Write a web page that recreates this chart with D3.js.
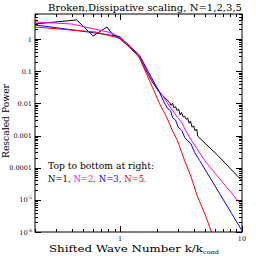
<!DOCTYPE html>
<html><head><meta charset="utf-8">
<script src="https://cdn.jsdelivr.net/npm/d3@7"></script>
<style>body{margin:0;background:#fff}svg{display:block}text{font-family:"DejaVu Serif",serif;fill:#000}</style>
</head><body>
<script>
const titleText = "Broken,Dissipative scaling, N=1,2,3,5";
const xLabel = "Shifted Wave Number k/k";
const xLabelSub = "cond";
const yLabel = "Rescaled Power";
const legendTitle = "Top to bottom at right:";
const seriesNames = ["N=1", "N=2", "N=3", "N=5"];
const seriesColors = ["#000000", "#ff00ff", "#0000ff", "#ff0000"];
const xDomain = [0.2, 10];
const yDomain = [1e-6, 6];
const xMajorTicks = [1, 10];
const xTickLabels = ["1", "10"];
const yMajorTicks = [1, 0.1, 0.01, 0.001, 0.0001, 1e-5, 1e-6];
const yTickLabels = [["1"], ["0.1"], ["0.01"], ["0.001"], ["0.0001"], ["10", "-5"], ["10", "-6"]];

const kN1 = [0.2, 0.44, 0.60, 0.78, 0.86, 1.0, 1.19, 1.44, 1.80, 2.10,
  2.54, 2.62, 2.69, 2.77, 2.85, 2.93, 3.02, 3.10, 3.19, 3.29, 3.38, 3.48, 3.58, 3.68, 3.78, 3.90, 4.01, 4.12, 4.25, 4.33,
  6.33, 10];
const pN1 = [2.94, 3.93, 1.24, 2.37, 1.43, 1.0, 0.56, 0.27, 0.052, 0.022,
  1.07e-2, 8.7e-3, 1.0e-2, 7.2e-3, 7.9e-3, 6.0e-3, 6.6e-3, 4.4e-3, 5.2e-3, 3.8e-3, 4.0e-3, 3.2e-3, 3.5e-3, 2.4e-3, 2.8e-3, 1.8e-3, 2.0e-3, 1.4e-3, 1.6e-3, 9.5e-4,
  2.4e-4, 3.9e-5];

const kN2 = [0.2, 0.40, 0.86, 1.0, 1.19, 1.44, 1.80, 2.10, 2.54, 2.96, 3.19, 3.44, 3.86, 4.95, 10];
const pN2 = [3.40, 2.94, 1.54, 1.07, 0.58, 0.29, 0.056, 0.024, 8.3e-3, 3.6e-3, 2.6e-3, 1.44e-3, 6.9e-4, 1.65e-4, 6.5e-6];

const kN3 = [0.2, 0.55, 0.94, 1.0, 1.19, 1.44, 1.80, 2.10, 2.30, 2.45, 2.60, 2.69, 2.85, 3.0, 3.2, 3.4, 3.58, 3.8, 4.1, 4.5, 10];
const pN3 = [2.74, 1.65, 1.24, 1.15, 0.62, 0.316, 0.065, 0.022, 0.0105, 0.0070, 0.0058, 3.6e-3, 3.0e-3, 1.8e-3, 1.45e-3, 8.5e-4, 6.9e-4, 5.6e-4, 2.9e-4, 1.65e-4, 1.1e-6];

const kN5 = [0.2, 0.63, 0.98, 1.19, 1.44, 1.84, 2.10, 2.4, 2.7, 2.96, 3.38, 3.8, 4.3, 5.0, 5.65];
const pN5 = [2.37, 1.65, 1.07, 0.65, 0.255, 0.0316, 0.01, 3.8e-3, 1.35e-3, 6.9e-4, 1.65e-4, 5.5e-5, 1.3e-5, 3.4e-6, 9.3e-7];

const seriesK = [kN1, kN2, kN3, kN5];
const seriesP = [pN1, pN2, pN3, pN5];

const W = 256, H = 256;
const L = 35, R = 242, T = 14, B = 232;

const svg = d3.select("body").append("svg").attr("width", W).attr("height", H);
const x = d3.scaleLog().domain(xDomain).range([L, R]);
const y = d3.scaleLog().domain(yDomain).range([B, T]);

svg.append("clipPath").attr("id", "clip").append("rect")
  .attr("x", L).attr("y", T).attr("width", R - L).attr("height", B - T);

const line = d3.line().x(d => x(d[0])).y(d => y(d[1]));
const g = svg.append("g").attr("clip-path", "url(#clip)");
seriesK.forEach((ks, i) => {
  const pts = ks.map((k, j) => [k, seriesP[i][j]]);
  g.append("path").datum(pts).attr("d", line)
    .attr("fill", "none").attr("stroke", seriesColors[i]).attr("stroke-width", 1);
});

svg.append("rect").attr("x", L).attr("y", T).attr("width", R - L).attr("height", B - T)
  .attr("fill", "none").attr("stroke", "#000").attr("stroke-width", 1);

const tg = svg.append("g").attr("stroke", "#000").attr("stroke-width", 1);
x.ticks().forEach(v => {
  const maj = xMajorTicks.includes(v);
  const len = maj ? 6 : 3;
  const px = Math.round(x(v)) + 0.5;
  tg.append("line").attr("x1", px).attr("x2", px).attr("y1", B).attr("y2", B - len);
  tg.append("line").attr("x1", px).attr("x2", px).attr("y1", T).attr("y2", T + len);
});
y.ticks().forEach(v => {
  const maj = yMajorTicks.some(m => Math.abs(m - v) / m < 1e-6);
  const len = maj ? 6 : 3;
  const py = Math.round(y(v)) + 0.5;
  tg.append("line").attr("y1", py).attr("y2", py).attr("x1", L).attr("x2", L + len);
  tg.append("line").attr("y1", py).attr("y2", py).attr("x1", R).attr("x2", R - len);
});

xMajorTicks.forEach((v, i) => {
  svg.append("text").attr("x", x(v)).attr("y", 240.5).attr("text-anchor", "middle")
    .attr("font-size", 6.5).text(xTickLabels[i]);
});
yMajorTicks.forEach((v, i) => {
  const t = svg.append("text").attr("x", 32).attr("y", y(v) + 2.5).attr("text-anchor", "end")
    .attr("font-size", 6.5);
  const parts = yTickLabels[i];
  if (parts.length === 1) t.text(parts[0]);
  else {
    t.append("tspan").text(parts[0]);
    t.append("tspan").attr("dy", -3).attr("font-size", 4.5).text(parts[1]);
  }
});

svg.append("text").attr("x", 48).attr("y", 11).attr("font-size", 10)
  .attr("textLength", 194).attr("lengthAdjust", "spacingAndGlyphs").text(titleText);

const xl = svg.append("text").attr("x", 49).attr("y", 252).attr("font-size", 8.5);
xl.append("tspan").attr("textLength", 154).attr("lengthAdjust", "spacingAndGlyphs").text(xLabel);
xl.append("tspan").attr("dy", 2).attr("font-size", 5.5).attr("textLength", 16)
  .attr("lengthAdjust", "spacingAndGlyphs").text(xLabelSub);

svg.append("text").attr("transform", "translate(9,121) rotate(-90)").attr("text-anchor", "middle")
  .attr("font-size", 9).attr("textLength", 74).attr("lengthAdjust", "spacingAndGlyphs").text(yLabel);

svg.append("text").attr("x", 48).attr("y", 169).attr("font-size", 8.5)
  .attr("textLength", 106).attr("lengthAdjust", "spacingAndGlyphs").text(legendTitle);
const lg = svg.append("text").attr("x", 48).attr("y", 182).attr("font-size", 8.5);
seriesNames.forEach((n, i) => {
  lg.append("tspan").attr("fill", seriesColors[i])
    .text(n + (i < seriesNames.length - 1 ? ", " : "."));
});
</script>
</body></html>
